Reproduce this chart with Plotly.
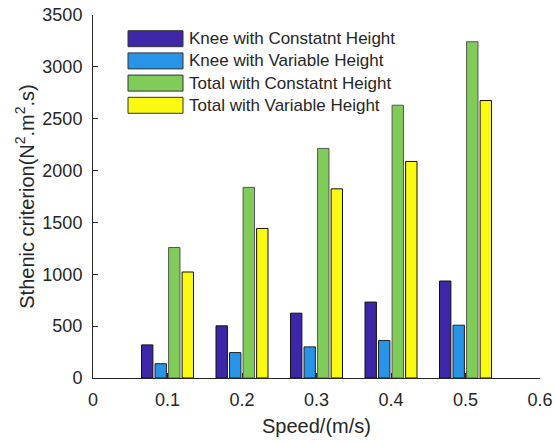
import plotly.graph_objects as go

speeds = [0.1, 0.2, 0.3, 0.4, 0.5]
series_names = ["Knee with Constatnt Height", "Knee with Variable Height",
                "Total with Constatnt Height", "Total with Variable Height"]
knee_const = [319, 503, 625, 732, 935]
knee_var = [138, 245, 300, 361, 509]
total_const = [1258, 1838, 2214, 2630, 3242]
total_var = [1022, 1442, 1824, 2088, 2675]
series_values = [knee_const, knee_var, total_const, total_var]
colors = ["#3e26a8", "#2894e8", "#80cc58", "#f9fa10"]
edge_colors = ["#111111", "#222222", "#555555", "#111111"]
x_ticks = [0, 0.1, 0.2, 0.3, 0.4, 0.5, 0.6]
x_tick_labels = ["0", "0.1", "0.2", "0.3", "0.4", "0.5", "0.6"]
y_ticks = [0, 500, 1000, 1500, 2000, 2500, 3000, 3500]

W, H = 555, 443
ML, MR, MT, MB = 93, 15, 15, 65
PW, PH = W - ML - MR, H - MT - MB
FONT = "Liberation Sans, Arial, Helvetica, sans-serif"

fig = go.Figure()
for name, vals, c, ec in zip(series_names, series_values, colors, edge_colors):
    fig.add_trace(go.Bar(x=speeds, y=vals, name=name, marker=dict(color=c, line=dict(color=ec, width=1)),
                         showlegend=False))

def px_x(px):
    return (px - ML) / PW

def px_y(py):
    return 1 - (py - MT) / PH

shapes = []
annotations = []
row_centers = [38.7, 60.9, 83.1, 105.3]
for name, c, ec, yc in zip(series_names, colors, edge_colors, row_centers):
    shapes.append(dict(type="rect", xref="paper", yref="paper",
                       x0=px_x(128), x1=px_x(183), y0=px_y(yc + 8), y1=px_y(yc - 8),
                       fillcolor=c, line=dict(color="#333333", width=1)))
    annotations.append(dict(text=name, xref="paper", yref="paper", x=px_x(187), y=px_y(yc),
                            xanchor="left", yanchor="middle", showarrow=False,
                            font=dict(size=17, color="#262626", family=FONT)))

fig.update_layout(
    width=W, height=H,
    margin=dict(l=ML, r=MR, t=MT, b=MB, autoexpand=False),
    paper_bgcolor="white", plot_bgcolor="white",
    barmode="group", bargap=0.273, bargroupgap=0.16,
    font=dict(family=FONT, size=18, color="#262626"),
    shapes=shapes, annotations=annotations,
    xaxis=dict(range=[0, 0.6], tickvals=x_ticks, ticktext=x_tick_labels, automargin=False,
               showline=True, linecolor="#262626", linewidth=1, mirror=False,
               ticks="inside", ticklen=5, tickcolor="#262626", showgrid=False, zeroline=False,
               ticklabelstandoff=5,
               title=dict(text="Speed/(m/s)", font=dict(size=20), standoff=10)),
    yaxis=dict(range=[0, 3500], tickvals=y_ticks, automargin=False,
               showline=True, linecolor="#262626", linewidth=1, mirror=False,
               ticks="inside", ticklen=5, tickcolor="#262626", showgrid=False, zeroline=False,
               ticklabelstandoff=6,
               title=dict(text="Sthenic criterion(N<sup>2</sup>.m<sup>2</sup>.s)", font=dict(size=20), standoff=2)),
)

fig.write_html("out.html", config={"displayModeBar": False},
               post_script="document.body.style.margin='0';document.body.style.padding='0';")
